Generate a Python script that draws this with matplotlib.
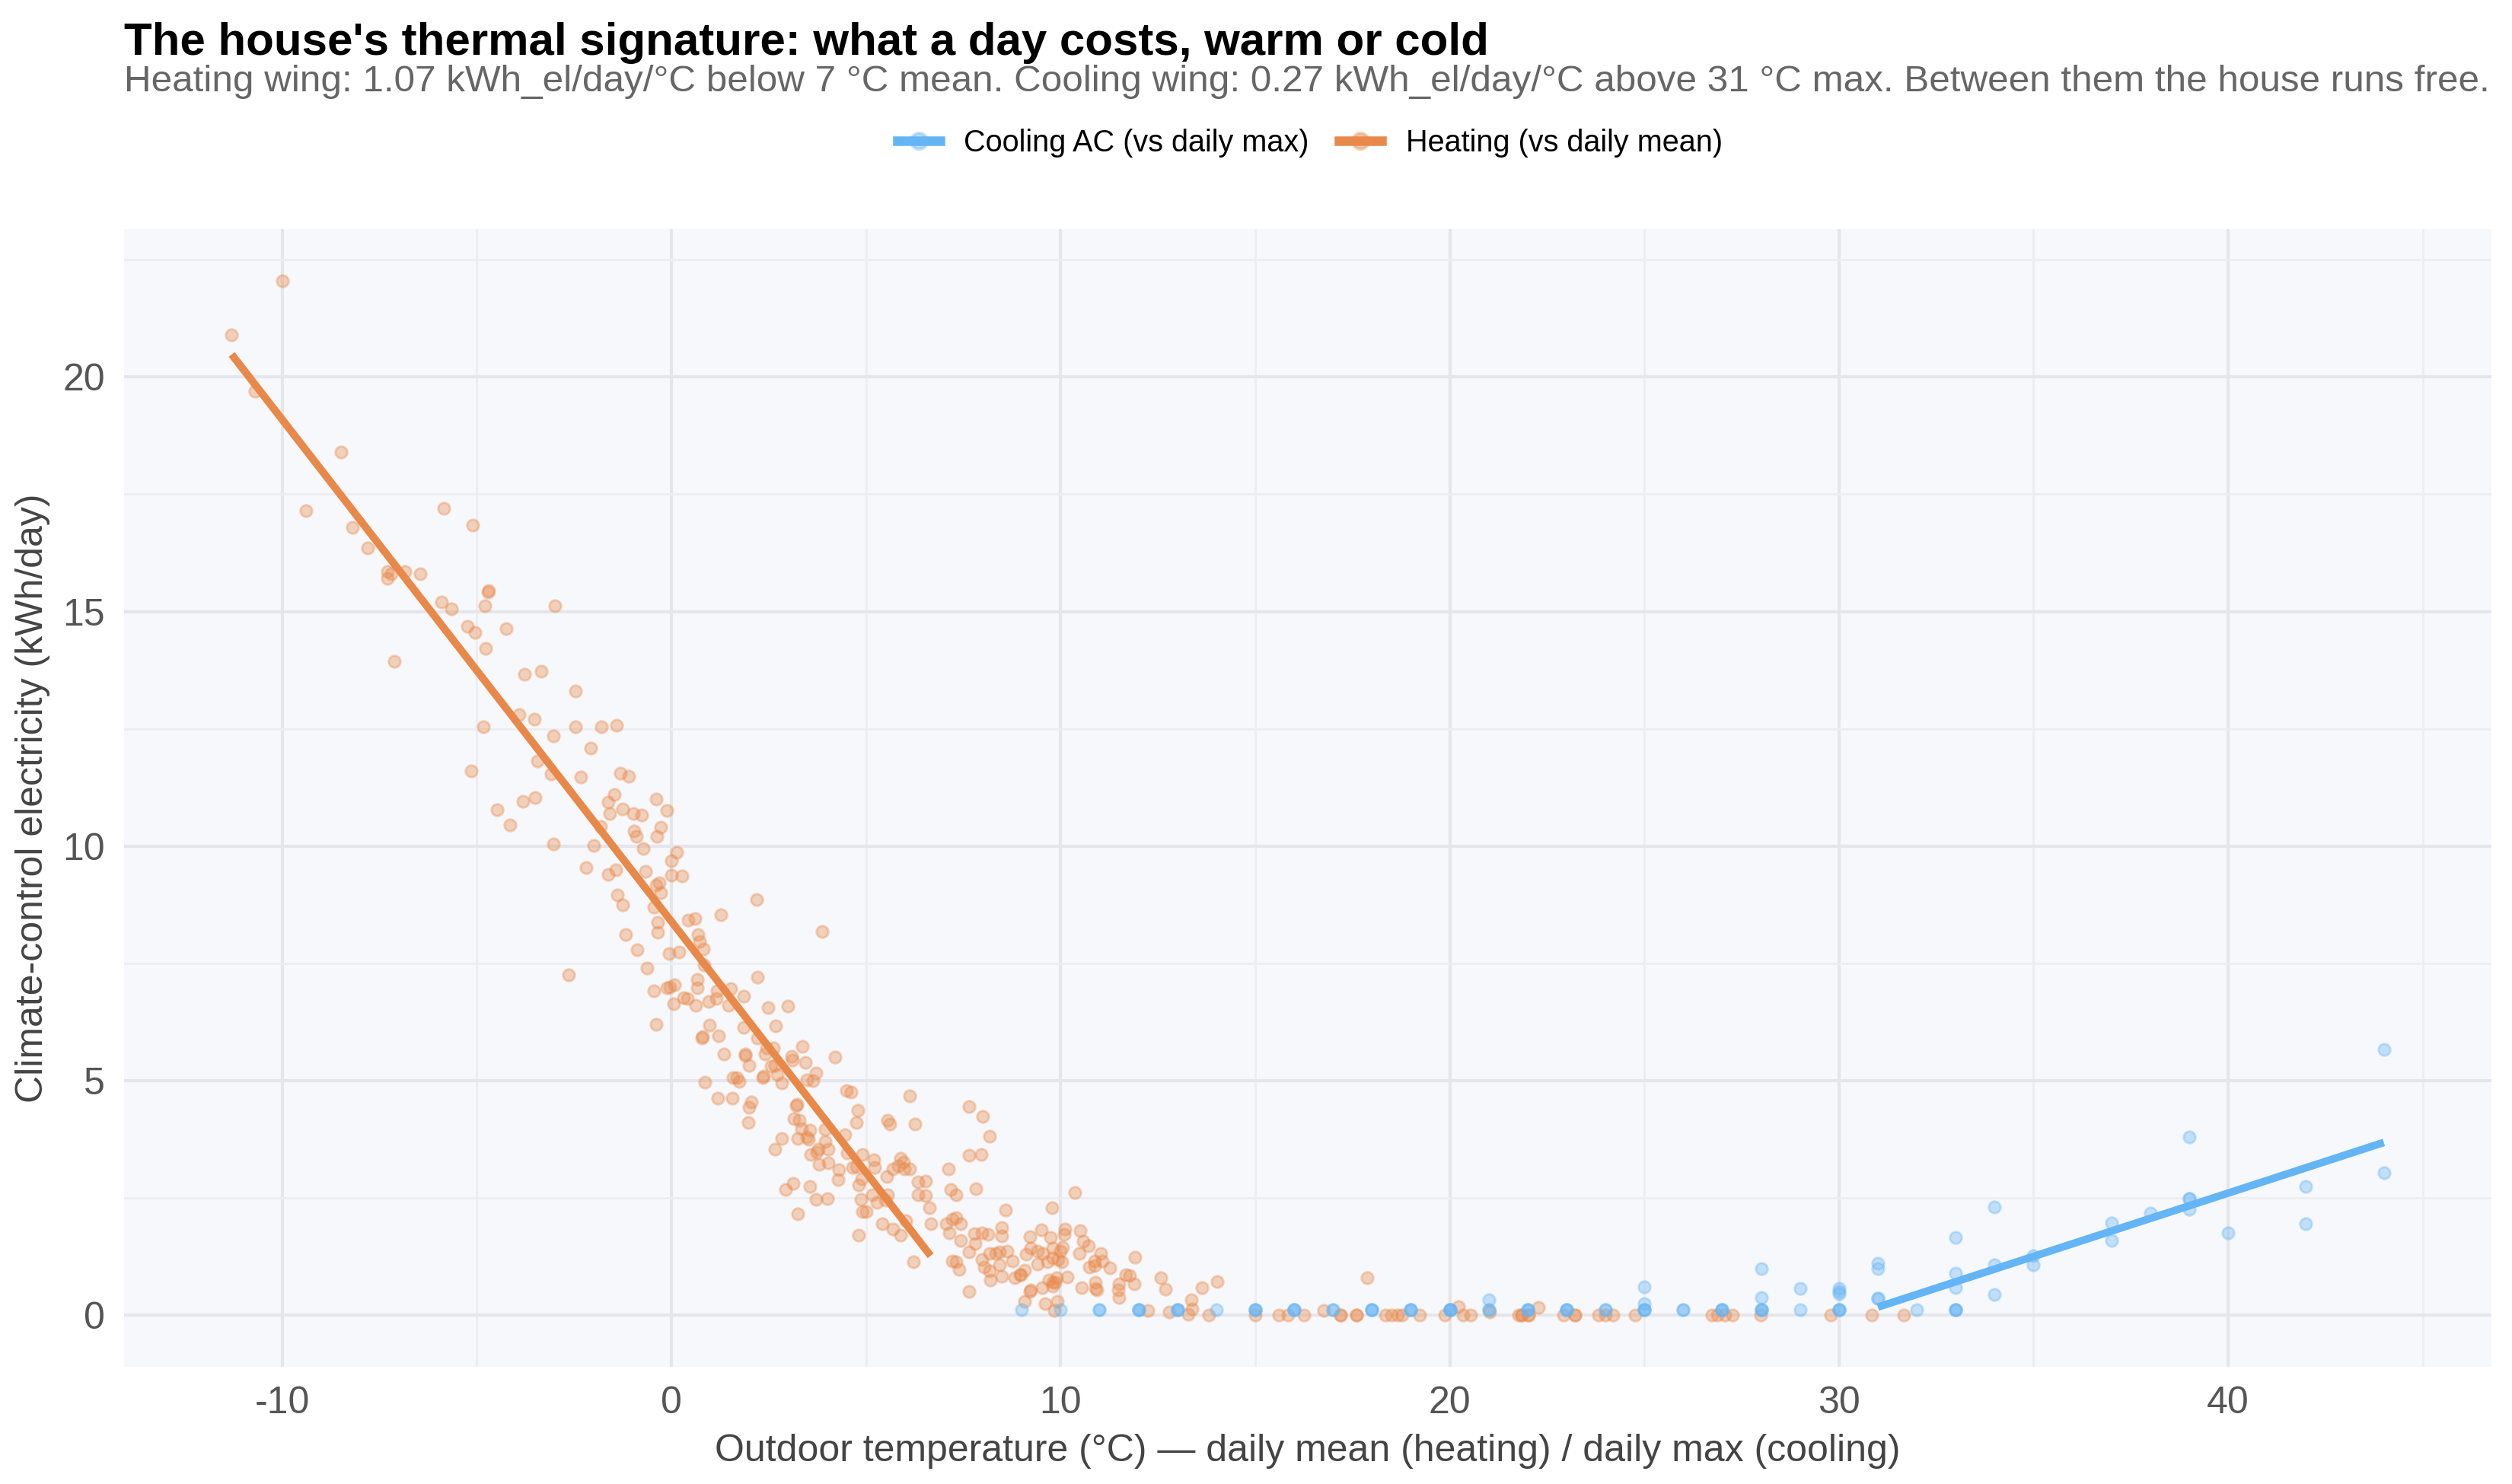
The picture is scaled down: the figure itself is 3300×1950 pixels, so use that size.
import matplotlib
matplotlib.use("Agg")
import matplotlib.pyplot as plt
from matplotlib.lines import Line2D
from matplotlib.ticker import MultipleLocator
from matplotlib.colors import to_rgba
import numpy as np

plt.rcParams['font.family'] = ['Liberation Sans', 'DejaVu Sans']
plt.rcParams['axes.unicode_minus'] = False

# heating days: daily mean outdoor temp (°C) vs climate-control kWh
heat_temp = [
    -11.3, -10.0, -10.7, -8.5, -9.4, -8.2, -7.8, -7.3, -7.2, -7.3, -6.85, -6.45,
    -5.85, -5.1, -4.7, -4.72, -5.9, -5.65, -4.8, -3.0, -5.25, -5.05, -4.25, -4.77,
    -7.12, -3.77, -3.35, -2.47, -3.92, -3.53, -4.83, -2.46, -1.81, -1.41, -3.04, -2.07,
    -3.45,
    # mid band
    -5.14, -3.1, -2.33, -1.32, -1.1, -1.46, -1.62, -1.58, -0.4, -0.11, -1.26, -0.98,
    -0.77, -3.51, -3.82, -4.48, -4.14, -1.82, -0.96, -0.9, -0.28, -0.38, -3.03, -1.99,
    -0.72, 0.13, 0.0, -2.2, -1.43, -1.62, -0.67, 0.0, 0.28, -0.31, -0.4, -0.28,
    -1.4, -1.26, -0.46, 2.18, -0.36, 0.42, 0.6, 1.26, 3.88, -1.17, -0.35, 0.68,
    0.73, 0.82, -0.88, -0.06, 0.2, -0.63, 0.83, -2.64, 2.21, 0.67, 0.67, -0.45,
    -0.12, -0.04, 0.08, 1.18, 1.52, 1.85, 0.31, 0.4, 0.05, 0.63, 0.95, 1.16,
    1.47, 2.49, 2.99, -0.39, 0.97, 1.85, 2.68, 0.78, 0.8, 1.22, 2.2, 1.34,
    1.89, 1.9, 2.41, 2.61, 2.44, 3.08, 3.11, 3.37, 3.45, 4.2, 1.99, 2.57,
    2.65, 2.71, 2.37, 2.34, 2.83, 3.71, 3.48, 3.64, 1.59, 1.69, 1.73,
    # shoulder
    0.86, 1.2, 1.56, 2.05, 2.0, 1.97, 3.22, 3.2, 3.14, 3.28, 4.49, 4.62,
    6.12, 4.8, 4.76, 5.56, 5.61, 6.25, 7.65, 8.0, 8.17, 7.65, 7.95, 3.35,
    3.56, 3.48, 3.25, 3.51, 3.95, 4.46, 2.84, 2.66, 3.94, 4.03, 3.58, 3.77,
    3.74, 3.79, 4.02, 4.52, 4.91, 4.65, 4.75, 4.31, 4.29, 4.88, 4.81, 2.93,
    3.13, 3.56, 3.71, 4.0, 4.86, 3.25, 4.91, 4.81, 5.2, 5.22, 5.89, 5.97,
    6.13, 5.82, 5.99, 5.69, 5.54, 7.11, 6.34, 6.53, 6.34, 6.54, 7.18, 7.32,
    7.82, 5.17, 5.27, 5.56, 5.5, 5.01, 6.62, 10.36, 8.59, 9.77, 5.41, 5.69,
    5.89, 6.02, 6.66, 7.05, 7.22, 7.32, 7.44, 7.13, 7.44, 7.65, 7.78, 7.97,
    8.14, 7.81, 8.48, 8.48, 6.21, 7.22, 7.32, 7.39, 7.65, 7.97, 8.17, 8.04,
    8.17, 8.2, 8.33, 8.43, 8.62, 8.43, 8.49, 8.76, 8.82, 8.98, 9.21, 9.11,
    9.24, 9.41, 9.5, 9.73, 9.54, 9.41, 9.67, 9.8, 9.99, 9.8, 9.93, 10.03,
    10.09, 10.12, 10.06, 10.51, 10.58, 10.71, 10.48, 9.08, 8.95, 9.24, 9.21, 9.52,
    9.7, 9.8, 9.9, 10.16, 9.8, 9.86, 9.08, 9.6, 9.91, 9.83, 10.55, 10.9,
    10.9, 10.94, 10.74, 10.87, 11.03, 11.07, 11.26, 10.87, 11.48, 11.49, 11.5, 11.67,
    11.78, 11.89, 11.91, 12.57, 12.7, 13.35, 13.64, 14.02,
    # free-running days
    12.24, 12.79, 13.28, 13.38, 13.8, 15.0, 15.6, 15.85, 16.25, 16.76, 17.2, 17.2,
    17.6, 17.6, 17.87, 18.35, 18.5, 18.66, 18.78, 19.22, 19.88, 20.22, 20.34, 20.53,
    21.03, 21.77, 21.84, 21.84, 22.02, 22.02, 22.27, 22.93, 23.21, 23.21, 23.83, 23.99,
    24.2, 24.77, 26.74, 26.88, 27.07, 27.26, 27.98, 29.79, 30.85, 31.66,
]
heat_kwh = [
    20.9, 22.05, 19.7, 18.4, 17.15, 16.8, 16.35, 15.85, 15.8, 15.7, 15.85, 15.8,
    17.2, 16.85, 15.45, 15.42, 15.2, 15.05, 15.12, 15.12, 14.68, 14.55, 14.63, 14.22,
    13.93, 13.66, 13.72, 13.31, 12.81, 12.7, 12.55, 12.54, 12.55, 12.57, 12.34, 12.09,
    11.82,
    11.6, 11.53, 11.47, 11.56, 11.48, 11.1, 10.93, 10.7, 11.0, 10.75, 10.79, 10.7,
    10.66, 11.03, 10.95, 10.77, 10.45, 10.42, 10.32, 10.2, 10.4, 10.2, 10.05, 10.01,
    9.95, 9.87, 9.68, 9.54, 9.5, 9.4, 9.46, 9.38, 9.36, 9.21, 9.16, 9.0,
    8.96, 8.74, 8.69, 8.86, 8.38, 8.42, 8.46, 8.53, 8.18, 8.11, 8.16, 8.11,
    7.96, 7.8, 7.79, 7.71, 7.74, 7.4, 7.47, 7.25, 7.21, 7.16, 6.98, 6.92,
    6.98, 7.0, 7.04, 6.92, 6.96, 6.8, 6.76, 6.75, 6.63, 6.6, 6.69, 6.75,
    6.6, 6.55, 6.58, 6.2, 6.18, 6.14, 6.17, 5.9, 5.94, 5.95, 5.9, 5.56,
    5.57, 5.54, 5.56, 5.7, 5.69, 5.52, 5.43, 5.72, 5.38, 5.5, 5.32, 5.31,
    5.32, 5.12, 5.09, 5.06, 4.95, 5.16, 5.01, 4.99, 5.06, 5.06, 4.98,
    4.97, 4.62, 4.63, 4.54, 4.43, 4.1, 4.49, 4.47, 4.19, 4.15, 4.78, 4.76,
    4.67, 4.37, 4.1, 4.16, 4.08, 4.08, 4.44, 4.24, 3.81, 3.4, 3.43, 3.97,
    3.94, 3.79, 3.77, 3.74, 3.96, 3.85, 3.76, 3.53, 3.7, 3.54, 3.42, 3.53,
    3.47, 3.22, 3.24, 3.45, 3.42, 3.15, 3.17, 3.1, 2.89, 2.91, 2.77, 2.68,
    2.8, 2.75, 2.46, 2.48, 2.46, 2.16, 2.21, 1.71, 3.31, 3.15, 3.34, 3.26,
    3.12, 3.18, 3.12, 3.11, 2.95, 3.11, 2.84, 2.85, 2.57, 2.55, 2.67, 2.56,
    2.7, 2.57, 2.4, 2.56, 2.45, 2.21, 2.29, 2.62, 2.24, 2.28, 1.95, 1.83,
    1.7, 2.02, 1.95, 1.95, 2.04, 2.07, 1.94, 1.76, 1.59, 1.34, 1.74, 1.75,
    1.72, 1.53, 1.87, 1.69, 1.14, 1.15, 1.13, 0.97, 0.5, 1.18, 1.32, 1.02,
    0.94, 0.75, 1.32, 1.34, 1.37, 1.07, 0.83, 1.15, 0.8, 0.86, 1.67, 1.29,
    1.42, 1.37, 1.81, 1.65, 1.32, 1.09, 1.13, 1.42, 1.37, 1.21, 1.18, 1.13,
    1.72, 1.83, 1.45, 1.8, 1.58, 1.48, 1.31, 0.96, 0.86, 0.53, 0.51, 0.59,
    0.75, 0.7, 0.8, 0.81, 0.61, 0.7, 0.29, 0.25, 0.29, 0.1, 0.59, 0.7,
    0.56, 0.53, 1.02, 1.05, 1.32, 1.15, 1.0, 1.15, 0.53, 0.37, 0.67, 0.86,
    0.84, 0.67, 1.23, 0.8, 0.55, 0.32, 0.59, 0.72,
    0.1, 0.07, 0.02, 0.13, 0.0, 0.0, 0.0, 0.0, 0.0, 0.1, 0.0, 0.0,
    0.0, 0.0, 0.8, 0.0, 0.0, 0.0, 0.0, 0.0, 0.0, 0.18, 0.0, 0.0,
    0.07, 0.0, 0.0, 0.0, 0.0, 0.0, 0.16, 0.0, 0.0, 0.0, 0.0, 0.0,
    0.0, 0.0, 0.0, 0.0, 0.0, 0.0, 0.0, 0.0, 0.0, 0.0,
]

# cooling days: daily max outdoor temp (°C) vs AC kWh
cool_temp = [
    9, 10, 11, 11, 12, 12, 12, 13, 13, 13, 14,
    15, 15, 15, 16, 16, 16, 17, 17, 18, 18, 18, 19, 19, 19,
    20, 20, 20, 20, 21, 21, 21, 22, 22, 22, 23, 23, 23, 24, 24,
    25, 25, 25, 25, 25, 26, 26, 27, 27, 27, 28, 28, 28, 28, 28,
    29, 29, 30, 30, 30, 30, 30, 30, 31, 31, 31, 31, 32,
    33, 33, 33, 33, 33, 33, 34, 34, 34, 35, 35, 37, 37, 38,
    39, 39, 39, 39, 40, 42, 42, 44, 44,
]
cool_kwh = [
    0.12, 0.12, 0.12, 0.12, 0.12, 0.12, 0.12, 0.12, 0.12, 0.12, 0.12,
    0.12, 0.12, 0.12, 0.12, 0.12, 0.12, 0.12, 0.12, 0.12, 0.12, 0.12, 0.12, 0.12, 0.12,
    0.12, 0.12, 0.12, 0.12, 0.12, 0.12, 0.33, 0.12, 0.12, 0.12, 0.12, 0.12, 0.12, 0.12, 0.12,
    0.12, 0.12, 0.12, 0.25, 0.6, 0.12, 0.12, 0.12, 0.12, 0.12, 0.12, 0.12, 0.12, 0.37, 0.99,
    0.12, 0.56, 0.12, 0.12, 0.12, 0.45, 0.51, 0.57, 0.36, 0.36, 0.99, 1.1, 0.12,
    0.12, 0.12, 0.12, 0.59, 0.89, 1.65, 0.43, 1.07, 2.31, 1.07, 1.27, 1.59, 1.96, 2.18,
    2.26, 2.48, 2.48, 3.8, 1.76, 1.94, 2.75, 3.04, 5.66,
]

# fitted wings (slopes/balance points from subtitle, offsets)
heat_slope, heat_balance, heat_offset = 1.07, 7, 0.9
cool_slope, cool_balance, cool_offset = 0.27, 31, 0.17

heat_color = '#E8894A'
cool_color = '#64B5F6'

fig = plt.figure(figsize=(11, 6.5), dpi=300)
ax = fig.add_axes([0.0494, 0.079, 0.9424, 0.7666])
ax.set_facecolor('#F7F8FC')
for s in ax.spines.values():
    s.set_visible(False)

ax.scatter(heat_temp, heat_kwh, s=14, color=heat_color, alpha=0.36,
           edgecolors=heat_color, linewidths=0.7, zorder=2)
ax.scatter(cool_temp, cool_kwh, s=14, color=cool_color, alpha=0.36,
           edgecolors=cool_color, linewidths=0.7, zorder=3)

ht = np.array(heat_temp)
hx = np.array([ht.min(), ht[ht < heat_balance].max()])
ax.plot(hx, heat_offset + heat_slope * (heat_balance - hx), color=heat_color,
        lw=2.4, solid_capstyle='butt', zorder=4)
ct = np.array(cool_temp)
cx = np.array([cool_balance, ct.max()])
ax.plot(cx, cool_offset + cool_slope * (cx - cool_balance), color=cool_color,
        lw=2.4, solid_capstyle='butt', zorder=4)

ax.xaxis.set_major_locator(MultipleLocator(10))
ax.xaxis.set_minor_locator(MultipleLocator(5))
ax.yaxis.set_major_locator(MultipleLocator(5))
ax.yaxis.set_minor_locator(MultipleLocator(2.5))
ax.grid(which='major', color='#E4E6EB', lw=1.0, zorder=0)
ax.grid(which='minor', color='#ECEEF2', lw=0.7, zorder=0)
ax.set_axisbelow(True)
ax.tick_params(which='both', length=0, labelsize=12, labelcolor='#555555', pad=6)

ax.set_xlabel('Outdoor temperature (°C) — daily mean (heating) / daily max (cooling)',
              fontsize=12, color='#444444', labelpad=4)
ax.set_ylabel('Climate-control electricity (kWh/day)', fontsize=12,
              color='#444444', labelpad=4)

fig.text(0.0494, 0.963, "The house's thermal signature: what a day costs, warm or cold",
         fontsize=14.4, fontweight='bold', color='black', va='baseline')
fig.text(0.0494, 0.9385,
         'Heating wing: 1.07 kWh_el/day/°C below 7 °C mean. Cooling wing: 0.27 '
         'kWh_el/day/°C above 31 °C max. Between them the house runs free.',
         fontsize=11.85, color='#666666', va='baseline')

handles = [
    Line2D([], [], color=cool_color, lw=3, marker='o', ms=5,
           mfc=to_rgba(cool_color, 0.4), mec=to_rgba(cool_color, 0.4)),
    Line2D([], [], color=heat_color, lw=3, marker='o', ms=5,
           mfc=to_rgba(heat_color, 0.4), mec=to_rgba(heat_color, 0.4)),
]
fig.legend(handles, ['Cooling AC (vs daily max)', 'Heating (vs daily mean)'],
           loc='center', bbox_to_anchor=(0.5215, 0.9036), ncol=2, frameon=False,
           fontsize=9.5, handlelength=1.4, handletextpad=0.8, columnspacing=1.0)

fig.savefig('out.png', dpi=300, facecolor='white')
